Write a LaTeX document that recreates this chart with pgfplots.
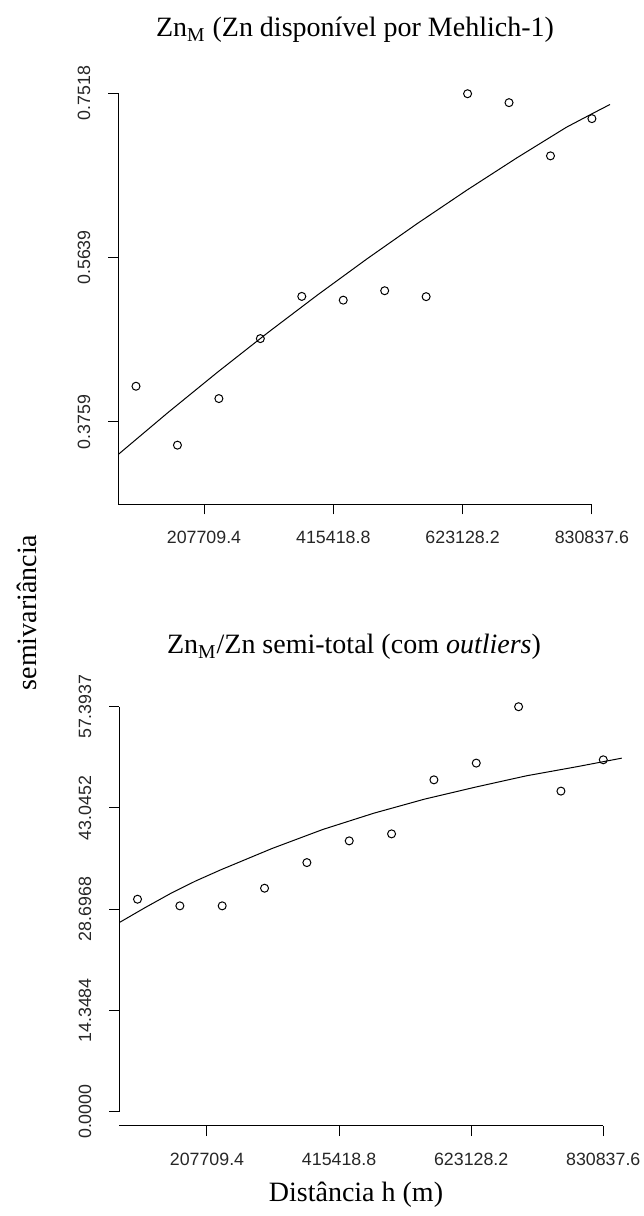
\documentclass[border=0pt]{standalone}
\usepackage{fontspec}
\setmainfont{Liberation Serif}
\newfontfamily\arialfont{Liberation Sans}
\usepackage{pgfplots}
\pgfplotsset{compat=1.18}

\newcommand{\ticklab}{\arialfont\fontsize{8.9}{10}\selectfont}
\newcommand{\labfont}{\fontsize{14}{16}\selectfont}

% experimental semivariogram (points) and fitted model (line)
\pgfplotstableread{
x       y
98460   0.4166
165040  0.3492
231620  0.4025
298200  0.4711
364780  0.5194
431360  0.5151
497940  0.5259
564520  0.5191
631100  0.7513
697680  0.7411
764260  0.6802
830840  0.7228
}\zmpts
\pgfplotstableread{
x       y
70040   0.3386
150000  0.3866
230000  0.4330
310000  0.4778
390000  0.5210
470000  0.5626
550000  0.6026
630000  0.6410
710000  0.6778
790000  0.7130
830000  0.7280
859900  0.7390
}\zmfit
\pgfplotstableread{
x       y
98460   30.11
165040  29.17
231620  29.17
298200  31.67
364780  35.30
431360  38.38
497940  39.37
564520  47.03
631100  49.40
697680  57.39
764260  45.43
830840  49.87
}\ratiopts
\pgfplotstableread{
x       y
69815   26.80
110000  28.90
150000  30.90
190000  32.70
230000  34.30
270000  35.80
310000  37.30
390000  40.00
470000  42.30
550000  44.30
630000  46.00
710000  47.60
790000  48.90
859790  50.10
}\ratiofit

\pgfplotsset{
  vgram/.style={
    scale only axis,
    clip=false,
    axis lines*=left,
    axis line style={draw=none},
    tick align=outside,
    major tick length=5pt,
    tick style={black, line width=0.5pt},
    xtick={207709.4,415418.8,623128.2,830837.6},
    xticklabels={207709.4,415418.8,623128.2,830837.6},
    scaled x ticks=false, scaled y ticks=false,
    ticklabel style={font=\ticklab, text=black!85},
    yticklabel style={xshift=-5.5pt, rotate=90, anchor=south},
    xticklabel style={anchor=north, yshift=-5pt},
  },
  pts/.style={only marks, mark=o, mark size=2pt, black, mark options={line width=0.5pt}},
  fit/.style={no marks, black, line width=0.5pt},
}

\begin{document}
\begin{tikzpicture}
\useasboundingbox (0,0) rectangle (321.5pt,608pt);

\begin{axis}[vgram,
  at={(59.15pt,355.75pt)}, anchor=south west,
  width=245.85pt, height=205.6pt,
  xmin=70040, xmax=859900, ymin=0.2813, ymax=0.7518,
  ytick={0.3759,0.5639,0.7518},
  yticklabels={0.3759,0.5639,0.7518},
]
\addplot[fit] table[x=x,y=y] {\zmfit};
\addplot[pts] table[x=x,y=y] {\zmpts};
\draw[line width=0.5pt] (axis cs:70040,0.2813) -- (axis cs:830837.6,0.2813);
\draw[line width=0.5pt] (axis cs:70040,0.2813) -- (axis cs:70040,0.7518);
\end{axis}

\begin{axis}[vgram,
  at={(59.65pt,45pt)}, anchor=south west,
  width=251.2pt, height=209.65pt,
  xmin=69815, xmax=859790, ymin=-2.03, ymax=57.3937,
  ytick={0,14.3484,28.6968,43.0452,57.3937},
  yticklabels={0.0000,14.3484,28.6968,43.0452,57.3937},
]
\addplot[fit] table[x=x,y=y] {\ratiofit};
\addplot[pts] table[x=x,y=y] {\ratiopts};
\draw[line width=0.5pt] (axis cs:69815,-2.03) -- (axis cs:830837.6,-2.03);
\draw[line width=0.5pt] (axis cs:69815,0) -- (axis cs:69815,57.3937);
\end{axis}

\node[font=\labfont] at (177.5pt,593pt) {Zn\textsubscript{M} (Zn disponível por Mehlich-1)};
\node[font=\labfont] at (177pt,284.5pt) {Zn\textsubscript{M}/Zn semi-total (com \textit{outliers})};
\node[font=\labfont, rotate=90] at (13.5pt,301.75pt) {semivariância};
\node[font=\labfont] at (178pt,10.5pt) {Distância h (m)};
\end{tikzpicture}
\end{document}
